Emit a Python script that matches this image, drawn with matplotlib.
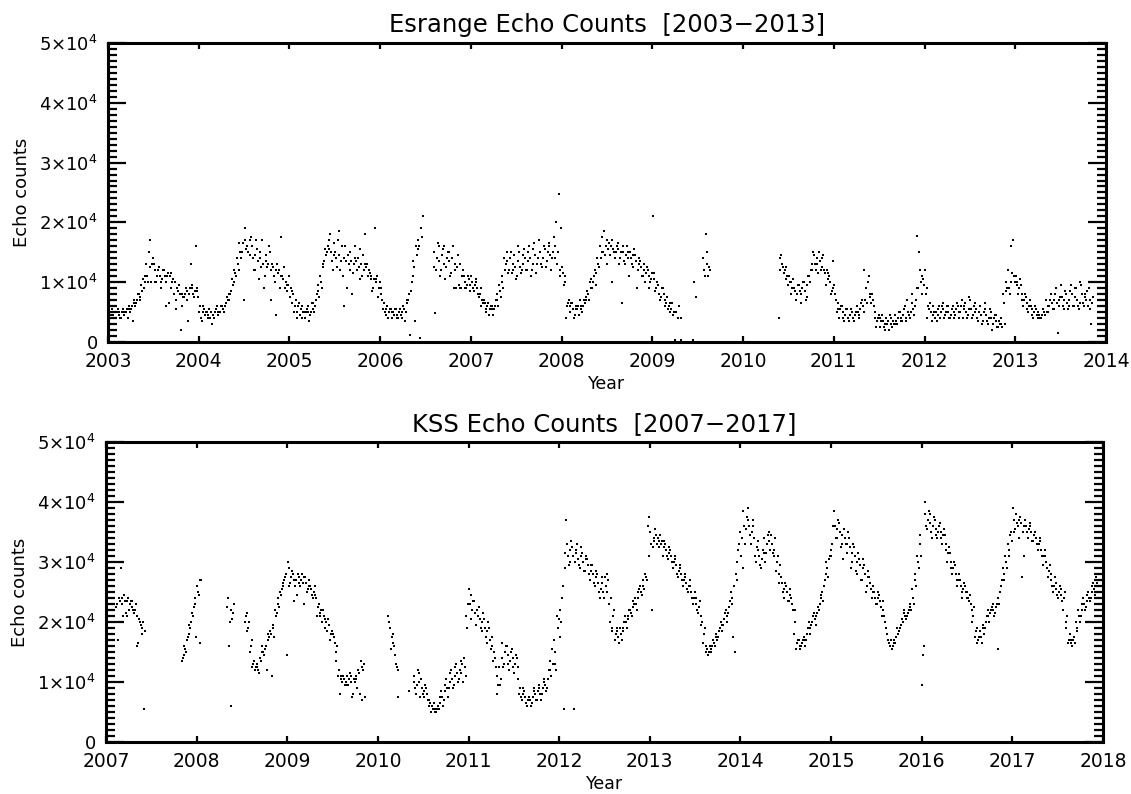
import numpy as np
import matplotlib
import matplotlib.pyplot as plt
from matplotlib.ticker import MultipleLocator, NullLocator

matplotlib.use('Agg')

nan = float('nan')

# Echo counts in thousands. One row per year, 36 slots of ~10 days each
# (Jan..Dec, 3 slots per month); a/b/c are three readings inside each slot.
esr_years = list(range(2003, 2014))
esr_a = [
    [7, 5.5, 5, 5, 4.5, 5, 5, 5.5, 5.5, 6, 6.5, 7, 7.5, 8.5, 10, 11, 12.5, 13, 12, 11, 11, 10.5, 11, 11, 11, 10, 10, 9, 8, 8, 8, 8.5, 9, 9, 8.5, 8.5],
    [6, 5, 4.5, 4.5, 4, 4.5, 5, 5, 5, 5.5, 6, 7, 8, 9.5, 11.5, 13, 15, 16.5, 17, 15, 14.5, 14, 14.5, 13.5, 14, 13, 13.5, 13, 12, 12.5, 12, 11.5, 11, 10.5, 10, 9.5],
    [9, 8, 7, 6, 5.5, 5, 5, 5, 5, 5.5, 7, 8.5, 10, 12.5, 14.5, 15.5, 15, 14.5, 14, 14.5, 13.5, 14, 13.5, 13, 13.5, 13, 13.5, 12.5, 13, 12, 12.5, 12, 11, 10.5, 10, 9],
    [8, 6.5, 5.5, 5, 5, 4.5, 4.5, 5, 5, 5.5, 6.5, 8, 10, 12.5, 14.5, 16, 17.5, nan, nan, nan, nan, 12.5, 14, 13.5, 14.5, 13, 14, 13.5, 14, 13, 12.5, 13, 11, 10, 9.5, 9.5],
    [10, 9.5, 9, 8, 7, 6.5, 6, 5.5, 5.5, 6, 7, 8.5, 10, 12, 13.5, 14, 13, 12.5, 13.5, 12.5, 13, 14, 13.5, 14, 13, 14.5, 14, 15, 14, 15.5, 15, 14.5, 15, 14, 15, 12],
    [11.5, 10, 6.5, 6, 5.5, 5.5, 6, 5.5, 6, 7, 8, 9, 10, 11.5, 13, 14, 15, 16, 15.5, 16, 15.5, 15, 15.5, 15, 15, 14.5, 15, 14, 14.5, 13.5, 13, 12.5, 12, 11.5, 11, 10.5],
    [10.5, 9, 8, 7.5, 8, 6.5, 6, 5.5, 5, 5, 6, 4, nan, nan, nan, nan, 10, 7.5, nan, nan, 12, 13, 12.5, nan, nan, nan, nan, nan, nan, nan, nan, nan, nan, nan, nan, nan],
    [nan, nan, nan, nan, nan, nan, nan, nan, nan, nan, nan, nan, nan, nan, 14, 13, 12, 11, 10, 9, 8.5, 8, 8.5, 9, 8.5, 9.5, 10, 12, 13, 14, 13.5, 12.5, 11.5, 10.5, 10, 9],
    [8, 6.5, 5.5, 5, 4.5, 4, 4.5, 4, 4.5, 5, 5.5, 6, 7, 10, 8, 7, 5, 4, 4, 3.5, 3, 3.5, 3, 3.5, 3.5, 4, 4, 4.5, 4, 5, 5, 5.5, 7, 9, 10, 10.5],
    [8, 6, 5, 4.5, 5, 4.5, 5, 5.5, 5, 5, 4.5, 5, 5.5, 5, 6, 5.5, 5, 5.5, 5.5, 6, 5.5, 5, 4.5, 5, 4.5, 4, 4, 4, 3.5, 3.5, 3, 6.5, 8.5, 9, 10, 11],
    [10, 9, 8, 7, 6.5, 6, 5.5, 5, 4.5, 4.5, 4.5, 5, 5, 6, 6.5, 7, 6.5, 7, 7.5, 7, 6.5, 7, 8, 7.5, 7, 6.5, 8, 7.5, 8.5, 7, 6.5, nan, nan, nan, nan, nan],
]
esr_b = [
    [6, 4.5, 4.5, 4, 5, 4, 4.5, 5, 6, 5.5, 7, 6.5, 8, 9.5, 9, 13, 15, 10, 13, 10, 12.5, 9, 12, 10, 6.5, 11.5, 8, 7, 9.5, 6, 7.5, 7, 8, 9.5, 7.5, 9],
    [5, 3.5, 5.5, 5, 5.5, 3, 4, 6, 5, 6, 5, 7.5, 7, 10.5, 12, 14, 16.5, 15, 19, 16, 17, 16, 12, 15.5, 15, 17, 11, 12.5, 15, 13, 10, 13, 9, 11, 9, 8.5],
    [7.5, 6.5, 6, 5, 4.5, 6, 4, 6, 4.5, 6.5, 6, 9.5, 11, 13, 15.5, 16, 18, 12, 15, 17, 12, 11, 16, 14.5, 15, 11.5, 16, 14, 10.5, 14.5, 13, 11, 10.5, 9, 10.5, 7.5],
    [9, 5.5, 4.5, 4, 5.5, 5, 5.5, 4, 4.5, 6, 5, 7, 8.5, 13.5, 16, 17, 19, nan, nan, nan, nan, 15, 12, 16, 12, 16, 12.5, 15, 11.5, 9, 9, 9.5, 9, 11, 9, 10.5],
    [11, 8.5, 10, 7.5, 6, 7, 5, 4.5, 6, 5.5, 8, 9.5, 11, 14, 15, 12, 11.5, 14.5, 11, 15, 12, 15.5, 12, 16, 12, 16.5, 13, 17, 12.5, 16, 13.5, 16.5, 14, 16, 13, 11],
    [12.5, 11, 6, 5, 6.5, 4.5, 5.5, 7, 5, 6.5, 8.5, 10, 9, 12, 14, 16, 17.5, 14.5, 17, 14.5, 17, 14, 16.5, 14, 16, 13, 14, 15, 12.5, 14.5, 12, 13.5, 11, 10, 12, 10],
    [21, 8.5, 9.5, 7, 9, 7, 5.5, 6.5, 4.5, 0.3, 4, 0.3, nan, nan, nan, nan, 0.3, nan, nan, nan, 14, 18, 11, nan, nan, nan, nan, nan, nan, nan, nan, nan, nan, nan, nan, nan],
    [nan, nan, nan, nan, nan, nan, nan, nan, nan, nan, nan, nan, nan, nan, 4, 14.5, 11.5, 12.5, 11, 10, 9, 7, 9.5, 8, 10, 7.5, 11, 13, 14.5, 13, 15, 14, 12, 12, 11, 8.5],
    [9.5, 5, 4, 6, 3.5, 5.5, 3.5, 5, 3.5, 6, 4.5, 7, 12, 6.5, 7.5, 8, 4, 3.5, 2.5, 4.5, 2, 3, 4.5, 2.5, 4.5, 3, 5, 3.5, 6, 7, 4, 8, 6, 17.8, 12, 8],
    [12, 4, 6.5, 6, 4, 5.5, 4, 6.5, 4.5, 6, 4, 6, 4.5, 6, 5, 4, 6.5, 4.5, 7, 4.5, 6.5, 3.5, 6, 3.5, 5.5, 3, 5, 3, 4.5, 2.5, 4, 8, 10, 12, 16, 17],
    [11, 8, 9.5, 6, 7.5, 5, 6, 4, 5.5, 5, 4, 5.5, 7, 5, 8, 5.5, 9, 6, 9.5, 5.5, 8, 6, 9.5, 6, 9, 5.5, 9.5, 6, 7, 9, 3, nan, nan, nan, nan, nan],
]
esr_c = [
    [5, 5, 4, 5.5, 4, 5.5, 5, 4, 5, 3.5, 6, 8, 7, 10.5, 11, 10, 17, 14, 10, 12, 10, 12, 6, 11.5, 9, 10.5, 5.5, 8.5, 2, 7.5, 9, 3.5, 13, 8, 16, 7.5],
    [4, 6, 5, 4, 5, 4.5, 5.5, 4.5, 6, 5, 6.5, 8, 8.5, 10, 11, 12, 14, 7, 15.5, nan, 17.5, 12, 17, 10.5, 12.5, 9, 14.5, 16, 7, 11, 4.5, 12, 17.5, 12.5, 9.5, 11],
    [8.5, 5, 4, 6.5, 4, 5, 5.5, 3.5, 6.5, 5, 8, 7.5, 9, 13.5, 15, 17, 13.5, 16.5, 12.5, 18.5, 16, 6, 9, 12, 8, 14, 12, 15.5, 11, 18, 13, 11.5, 8.5, 19, 11, 10],
    [7, 5, 6, 5.5, 4, 5.5, 4, 5.5, 4, 3.5, 7, 1.2, 11, 3.5, 15.5, 0.6, 21, nan, nan, nan, nan, 4.8, 16.5, 11, 15.5, 10.5, 15, 11, 16, 12, 14.5, 9, 12, 9, 11, 8.5],
    [9, 10.5, 8, 9, 6.5, 5.5, 6.5, 6, 4.5, 7, 6, 7.5, 9, 13, 11.5, 15, 12, 10.5, 16, 11.5, 14.5, 12, 15, 11, 15.5, 11.5, 17, 13, 16, 12.5, 16, 12, 17.5, 20, 24.7, 19],
    [9.5, 4, 7, 6.5, 4, 6, 4.5, 6, 7, 7.5, 7, 10.5, 11, 9.5, 12.5, 15, 18.5, 13, 16.5, 10, 15, 16, 13, 6.5, 13.5, 16, 11, 13, 15.5, 9, 14, 11, 13, 12.5, 9, 11.5],
    [11.5, 10, 7, 9, 6, 7.5, 5, 6.5, 5, nan, nan, nan, nan, nan, nan, nan, nan, nan, nan, nan, 11, 15, 12, nan, nan, nan, nan, nan, nan, nan, nan, nan, nan, nan, nan, nan],
    [nan, nan, nan, nan, nan, nan, nan, nan, nan, nan, nan, nan, nan, nan, 12, 12.5, 10.5, 9.5, 8, 10.5, 7, 9.5, 6.5, 10, 7, 11, 12, 15, 12, 11.5, 12, 14.5, 9.5, 11.5, 8, 13.5],
    [7, 5.5, 6, 4, 5.5, 3.5, 5.5, 3.5, 5, 4, 6.5, 5, 9, 11, 6.5, 6, 2.5, 4.5, 3.5, 2.5, 4, 2, 4, 3, 3, 5, 3.5, 5.5, 3.5, 4.5, 6.5, 4.5, 9, 15, 11, 9.5],
    [9, 5.5, 3.5, 5, 3.5, 6, 6, 4, 6, 4, 5.5, 4, 6.5, 4, 7, 6, 4, 7.5, 4, 5, 4, 6, 3, 6.5, 3.5, 5.5, 2, 4.5, 2.5, 3, 2.5, 3, 9, 8, 11.5, 10],
    [9.5, 10.5, 7, 8, 5.5, 7, 4.5, 6, 4, 4, 5.5, 4.5, 6, 7, 5.5, 8, 1.5, 7.5, 6, 8.5, 5.5, 8.5, 6, 9, 6, 10, 6.5, 8, 6, 5.5, 7.5, nan, nan, nan, nan, nan],
]

kss_years = list(range(2007, 2018))
kss_a = [
    [nan, nan, nan, nan, 23, 23.5, 24, 23.5, 23.5, 23, 22.5, 22, 21, 20, 19, 18.5, nan, nan, nan, nan, nan, nan, nan, nan, nan, nan, nan, nan, nan, nan, 14, 15.5, 17.5, 19, 21, 23],
    [25, 27, nan, nan, nan, nan, nan, nan, nan, nan, nan, nan, 24, 22, 21.5, nan, nan, nan, nan, 21, 19, 16, 13, 12.5, 12, 13.5, 15, 16, 17, 18, 19, 21, 23, 24.5, 26, 28],
    [29, 27.5, 27, 27, 26.5, 27, 27.5, 26.5, 26, 25.5, 25, 24, 23, 22, 21, 20, 19.5, 18, 17.5, 15, 12, 11, 10.5, 10, 10.5, 10, 10.5, 10.5, 11.5, 12.5, 13, nan, nan, nan, nan, nan],
    [nan, nan, nan, nan, 20, 17.5, 16, 12.5, nan, nan, nan, nan, 8.5, nan, 10, 9.5, 10, 9, 8.5, 8, 7, 6, 5.5, 5.5, 6.5, 7.5, 8.5, 9, 10, 10.5, 11, 11.5, 12, 13, 12.5, 19],
    [23, 22, 21.5, 22, 20.5, 20, 19, 18.5, 17, 16, 14, 11, 9.5, 14, 15, 14.5, 13.5, 14, 13, 12.5, 9, 8, 7.5, 7, 7, 7.5, 8, 8.5, 8, 9, 9.5, 10.5, 12, 13, 15, 19],
    [22, 26, 29, 31, 32, 31, 31.5, 30.5, 31, 30, 30.5, 29.5, 28.5, 28, 27.5, 26.5, 25.5, 25, 26, 27, 24, 21, 18, 17.5, 18, 19, 20, 20.5, 21.5, 22.5, 23, 24, 25, 26, 27.5, 31],
    [33, 34, 34.5, 33.5, 33, 32.5, 32, 31.5, 31, 30, 29.5, 28.5, 28, 27, 26.5, 26, 25, 24, 23, 22.5, 21, 18, 16, 15, 15.5, 16.5, 17.5, 18.5, 19.5, 20.5, 21, 22.5, 24, 26, 30, 33],
    [34, 36, 37.5, 36, 35, 34, 32.5, 31, 30.5, 31.5, 33, 33.5, 33, 32, 30, 28, 26.5, 25.5, 25, 24.5, 23, 20, 16.5, 16, 16.5, 17, 18, 19, 20, 20.5, 21.5, 23, 25, 27, 29, 31],
    [33, 36, 35.5, 35, 34.5, 34, 33, 32.5, 31.5, 31, 30, 29.5, 29, 28, 27.5, 26.5, 25, 24, 24, 23.5, 22, 20, 17, 16, 16, 16.5, 18, 19, 20, 21, 21.5, 22.5, 24, 27, 30, 33],
    [14.5, 38, 37, 36.5, 36, 35.5, 35, 35, 34.5, 33, 31.5, 30, 29, 28, 27, 26, 25.5, 25, 24, 23, 21, 18.5, 17, 17.5, 19, 20, 21, 22, 22, 22.5, 24, 26, 28, 30, 32, 35],
    [37, 38, 37, 36.5, 36, 36, 35.5, 35, 34.5, 34, 33, 32, 31, 30, 28.5, 27, 26, 25.5, 25, 24.5, 24, 20, 17, 16.5, 17.5, 19, 21, 22, 23, 23.5, 24, 25, 25.5, 26.5, 28, 30],
]
kss_b = [
    [nan, nan, nan, nan, 22.5, 24, 23, 24.5, 21, 22, 23.5, 21.5, 16, 20.5, 18, 5.5, nan, nan, nan, nan, nan, nan, nan, nan, nan, nan, nan, nan, nan, nan, 13.5, 16, 17, 19.5, 21.5, 24],
    [26, 16.5, nan, nan, nan, nan, nan, nan, nan, nan, nan, nan, 22.5, 20, 20.5, nan, nan, nan, nan, 20, 18.5, 15, 12.5, 12, 12.5, 14, 16, 15.5, 18, 18.5, 19.5, 22, 24, 25, 26.5, 27.5],
    [30, 26.5, 28, 26, 28, 26, 26.5, 27.5, 25.5, 26, 24, 24.5, 22.5, 21, 22, 19, 20.5, 17, 18, 13.5, 11, 10.5, 11, 9.5, 9.5, 11, 8, 11, 12, 13.5, 12, nan, nan, nan, nan, nan],
    [nan, nan, nan, nan, 21, 15.5, 18, 13, 7.5, nan, nan, nan, nan, nan, 11, 8, 11.5, 10.5, 7.5, 9, 6, 5, 6.5, 5, 5.5, 8.5, 7, 10.5, 9, 12, 9.5, 13, 10.5, 11.5, 14, 21],
    [25.5, 20.5, 23.5, 19.5, 22.5, 18.5, 20.5, 16.5, 19, 17.5, 15, 8, 12.5, 16.5, 13, 16, 12, 15.5, 11.5, 14, 8, 7, 8.5, 6, 7.5, 6.5, 9, 7, 9.5, 8, 10.5, 9, 13.5, 15.5, 13, 21],
    [17.5, 24, 31.5, 33, 30, 32.5, 30, 33, 29, 31.5, 28.5, 30.5, 27, 29.5, 26, 28, 24, 27.5, 27.5, 25, 20, 19, 17, 18.5, 19, 18.5, 21, 21, 22, 23.5, 24, 25, 26, 27, 28, 36],
    [35, 32.5, 35.5, 34, 34.5, 31, 33, 30.5, 32, 29, 30.5, 27.5, 29, 26, 27.5, 25, 26, 23, 24, 21.5, 19.5, 16.5, 15, 14.5, 15, 17, 18, 17.5, 20, 19.5, 22, 21.5, 25, 17.5, 28, 32],
    [31, 38.5, 35.5, 37, 33, 36, 30, 32, 29, 34, 31.5, 35, 34.5, 31, 28.5, 26.5, 27.5, 24, 26, 23.5, 24, 18, 15.5, 17, 16, 17.5, 17, 20, 19.5, 21.5, 21, 22, 24.5, 26, 30, 30.5],
    [31, 38.5, 34, 36.5, 33, 35.5, 31.5, 34, 30, 32.5, 28, 30.5, 27, 29.5, 26, 27.5, 24, 25, 23, 24.5, 21, 21, 18, 16.5, 15.5, 17, 19, 18.5, 20.5, 22, 21, 23, 25.5, 28, 31, 34.5],
    [9.5, 40, 35.5, 38, 34, 37, 34, 36.5, 33, 34.5, 30, 31.5, 28, 29.5, 26, 27, 24, 26, 25, 24.5, 20, 17.5, 16.5, 18.5, 19.5, 19, 22, 21.5, 23, 21.5, 15.5, 25, 29, 31, 33, 34.5],
    [39, 35.5, 36, 37.5, 35, 37, 34, 36.5, 33.5, 35, 32, 33.5, 29.5, 31, 27.5, 28, 25, 26.5, 24, 25.5, 22, 19, 16.5, 17, 17, 20, 22, 21, 24, 22.5, 25, 24, 26.5, 27.5, 29, 33],
]
kss_c = [
    [nan, nan, nan, nan, 17, 29, 21, 21.5, 24, 23.5, 22, 23, 16.5, 19.5, 20, nan, nan, nan, nan, nan, nan, nan, nan, nan, nan, nan, nan, nan, nan, nan, 14.5, 15, 18, 20, 22.5, 17.5],
    [24.5, 27, nan, nan, nan, nan, nan, nan, nan, nan, nan, nan, 16, 6, 23, nan, nan, nan, nan, 21.5, 20, 17, 13.5, 13, 11.5, 15, 14.5, 12, 17.5, 11, 17.5, 21.5, 22.5, 25.5, 27, 14.5],
    [26, 28.5, 23.5, 24.5, 27.5, 28, 23, 25, 27, 24.5, 26, 21, 21.5, 20, 20.5, 18.5, 17, 18.5, 16.5, 16, 8, 10, 9.5, 11, 11.5, 7.5, 10, 9, 8, 7, 7.5, nan, nan, nan, nan, nan],
    [nan, nan, nan, nan, 19, 16.5, 14.5, 12, nan, nan, nan, nan, nan, nan, 9, 12, 7.5, 8, 9.5, 7, 6.5, 5.5, 5, 6, 7.5, 6, 9.5, 7.5, 11.5, 9, 12.5, 10, 13.5, 10, 11, 23],
    [24.5, 23.5, 19.5, 21, 19, 21.5, 17.5, 20, 15.5, 13.5, 12.5, 9.5, 10.5, 12.5, 16, 13, 15, 12.5, 14.5, 10.5, 7.5, 9, 6.5, 7.5, 6, 8.5, 7, 9, 7, 10, 8.5, 12, 11, 17, 12, 20.5],
    [20, 5.5, 37, 29.5, 33.5, 5.5, 32, 29.5, 32.5, 28.5, 31, 28, 29.5, 26.5, 28.5, 25, 26.5, 24, 28, 23, 18.5, 22, 19, 16.5, 17, 20, 19, 22, 21, 23, 22, 25.5, 24.5, 25.5, 27, 37.5],
    [22, 33.5, 33, 32.5, 33.5, 33.5, 31, 32.5, 30, 31, 28, 29.5, 27, 28, 25.5, 27, 24, 25, 22, 23.5, 20, 19, 15.5, 16, 16, 16, 17, 19, 18.5, 21.5, 20, 23.5, 23, 15, 27, 35],
    [29, 33, 39, 34.5, 37, 31, 33.5, 29.5, 32, 30, 34.5, 32, 31.5, 34, 31, 29.5, 25, 26.5, 23.5, 25.5, 22, 22, 17, 15.5, 17, 16, 19, 18, 21, 19.5, 22.5, 24, 23.5, 28, 27.5, 32],
    [36, 34, 37, 32.5, 30.5, 33, 35, 29, 33, 28.5, 31.5, 27, 30.5, 25, 28.5, 25.5, 26, 23, 25, 22.5, 23.5, 19, 16.5, 17, 16.5, 17.5, 18.5, 19.5, 21.5, 20.5, 22, 22, 23, 26, 29, 31],
    [16, 36, 38.5, 35, 37.5, 34.5, 36, 34, 35.5, 32, 32.5, 29, 30, 27, 28, 25, 26.5, 24, 23.5, 22, 22.5, 19, 17.5, 16.5, 18, 21, 20, 22.5, 21, 23, 23, 27, 27, 29, 31, 33.5],
    [35, 36.5, 34, 27.5, 31, 35, 36, 33.5, 35, 33, 34, 31, 32, 29, 29.5, 26, 27.5, 24.5, 26, 23.5, 25, 21, 18, 16, 16.5, 18.5, 20, 23, 22, 24.5, 23.5, 26, 24.5, 28, 26, 35],
]

y_ticks = [0, 10000, 20000, 30000, 40000, 50000]
y_tick_labels = ['0'] + [r'$%d{\times}10^{4}$' % k for k in range(1, 6)]

plt.rcParams['font.family'] = ['DejaVu Sans']
plt.rcParams['mathtext.fontset'] = 'dejavusans'
plt.rcParams['mathtext.default'] = 'regular'


def slot_points(years, rows, offset):
    """Turn per-year slot rows into (decimal year, count) arrays."""
    t_all, v_all = [], []
    for year, row in zip(years, rows):
        row = np.asarray(row, dtype=float)
        t_all.append(year + (np.arange(len(row)) + 0.5 + offset) / 36.0)
        v_all.append(row * 1000.0)
    return np.concatenate(t_all), np.concatenate(v_all)


def draw_panel(ax, years, rows_a, rows_b, rows_c, title, x0, x1):
    for rows, offset in ((rows_a, 0.0), (rows_b, -0.33), (rows_c, 0.33)):
        t, v = slot_points(years, rows, offset)
        ax.plot(t, v, 's', color='black', markersize=2.0, markeredgewidth=0)

    ax.set_xlim(x0, x1)
    ax.set_ylim(0, 50000)
    ax.set_xticks(range(x0, x1 + 1))
    ax.set_xticklabels([str(y) for y in range(x0, x1 + 1)])
    ax.xaxis.set_minor_locator(NullLocator())
    ax.set_yticks(y_ticks)
    ax.set_yticklabels(y_tick_labels)
    ax.yaxis.set_minor_locator(MultipleLocator(1000))

    ax.tick_params(axis='x', which='major', direction='in', length=4, width=1.6,
                   top=True, bottom=True, labelsize=13.5, pad=7)
    ax.tick_params(axis='y', which='major', direction='in', length=13, width=1.6,
                   left=True, right=True, labelsize=13, pad=7)
    ax.tick_params(axis='y', which='minor', direction='in', length=6.5, width=1.6,
                   left=True, right=True)
    for spine in ax.spines.values():
        spine.set_linewidth(2.2)

    ax.set_title(title, fontsize=17.5, pad=8)
    ax.set_xlabel('Year', fontsize=12.5, labelpad=3)
    ax.set_ylabel('Echo counts', fontsize=13, labelpad=6)


fig = plt.figure(figsize=(11.31, 7.94), dpi=100)
ax_top = fig.add_axes([0.0955, 0.5693, 0.8824, 0.3766])
ax_bot = fig.add_axes([0.0937, 0.0655, 0.8815, 0.3778])

draw_panel(ax_top, esr_years, esr_a, esr_b, esr_c,
           'Esrange Echo Counts  [2003\u22122013]', 2003, 2014)
draw_panel(ax_bot, kss_years, kss_a, kss_b, kss_c,
           'KSS Echo Counts  [2007\u22122017]', 2007, 2018)

plt.savefig('out.png', dpi=100)
plt.close()
